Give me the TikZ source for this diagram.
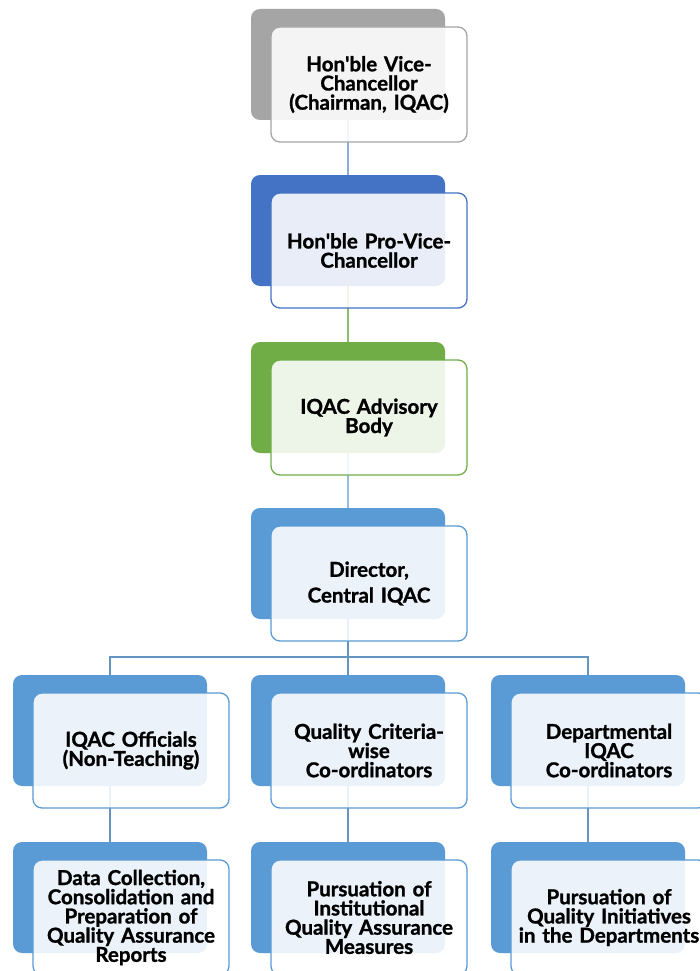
\documentclass[tikz,border=0pt]{standalone}
\usepackage{fontspec}
\setmainfont{Lato}[BoldFeatures={FakeBold=1.2}]
\usetikzlibrary{calc}
\usetikzlibrary{backgrounds}

\definecolor{grayback}{HTML}{A5A5A5}
\definecolor{darkblue}{HTML}{4472C4}
\definecolor{leafgreen}{HTML}{70AD47}
\definecolor{skyblue}{HTML}{5B9BD5}

\begin{document}
\begin{tikzpicture}[x=1pt,y=-1pt,
    backbox/.style={fill=#1, rounded corners=9pt, minimum width=194pt, minimum height=111pt, inner sep=0pt},
    frontbox/.style={draw=#1, line width=1.3pt, fill=white, fill opacity=0.88, text opacity=1, rounded corners=9pt,
        minimum width=196pt, minimum height=115pt, text width=192pt, align=center, inner sep=0pt,
        font=\fontsize{20.5}{19.2}\selectfont\bfseries},
    link/.style={draw=#1, line width=1.6pt}]
    \def \dx {21}
    \def \dy {20}
    \clip (0,0) rectangle (700,971);
    % boxes: back tile, then the lighter card in front of it
    \foreach \n/\x/\y/\C/\T in {
        vc/348/64.5/grayback/{Hon\textquotesingle ble Vice-\\Chancellor\\(Chairman, IQAC)},
        pvc/348/230.5/darkblue/{Hon\textquotesingle ble Pro-Vice-\\Chancellor},
        adv/348/397.5/leafgreen/{IQAC Advisory\\Body},
        dir/348/563.5/skyblue/{Director,\\[6.5pt]Central IQAC},
        off/110/730.5/skyblue/{IQAC Officials\\(Non-Teaching)},
        crit/348/730.5/skyblue/{Quality Criteria-\\wise\\Co-ordinators},
        dept/588/730.5/skyblue/{Departmental\\IQAC\\Co-ordinators},
        data/110/897.5/skyblue/{Data Collection,\\Consolidation and\\Preparation of\\Quality Assurance\\Reports},
        inst/348/897.5/skyblue/{Pursuation of\\Institutional\\Quality Assurance\\Measures},
        init/588/897.5/skyblue/{Pursuation of\\Quality Initiatives\\in the Departments}}
    {
        \node[backbox=\C] (\n-b) at (\x,\y) {};
        \node[frontbox=\C] (\n) at ($(\n-b)+(\dx,\dy)$) {\T};
    }
    \begin{scope}[on background layer]
        \fill[white] (0,0) rectangle (700,971);
        \draw[link=darkblue!60] (vc-b.south) -- (pvc-b.north);
        \draw[link=leafgreen!80] (pvc-b.south) -- (adv-b.north);
        \draw[link=skyblue!65] (adv-b.south) -- (dir-b.north);
        \coordinate (bus) at ($(dir-b.south)+(0,38)$);
        \draw[link=skyblue!75!gray] (dir-b.south) -- (bus);
        \draw[link=skyblue!75!gray] (off-b.north) |- (bus) -| (dept-b.north);
        \draw[link=skyblue!75!gray] (bus) -- (crit-b.north);
        \foreach \a/\b in {off/data,crit/inst,dept/init}
            \draw[link=skyblue!75!gray] (\a-b.south) -- (\b-b.north);
    \end{scope}
\end{tikzpicture}
\end{document}
